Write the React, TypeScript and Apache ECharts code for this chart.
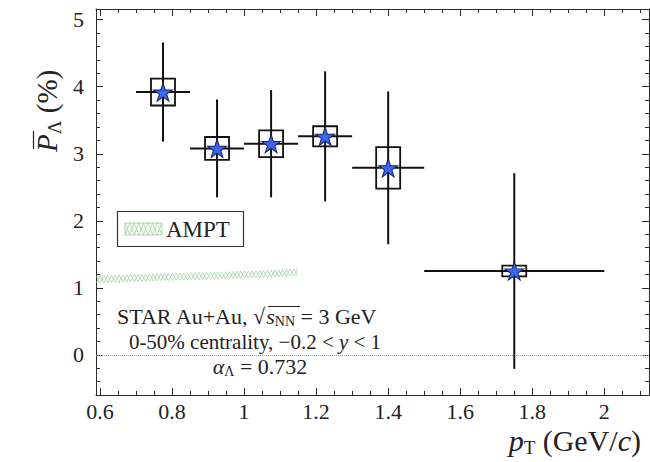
import React, { useEffect, useRef } from "react";
import * as echarts from "echarts";

// Measured data (pT bins, mean polarization in %, errors)
const ptCenter = [0.775, 0.925, 1.075, 1.225, 1.4, 1.75];
const ptLow = [0.7, 0.85, 1.0, 1.15, 1.3, 1.5];
const ptHigh = [0.85, 1.0, 1.15, 1.3, 1.5, 2.0];
const polarization = [3.92, 3.08, 3.15, 3.26, 2.79, 1.25];
const statErr = [0.74, 0.73, 0.8, 0.97, 1.14, 1.46];
const sysErr = [0.2, 0.17, 0.2, 0.15, 0.31, 0.08];

// AMPT band
const amptPt = [0.59, 0.7, 0.8, 0.9, 1.0, 1.1, 1.155];
const amptLow = [1.07, 1.09, 1.11, 1.12, 1.14, 1.16, 1.18];
const amptHigh = [1.18, 1.2, 1.22, 1.23, 1.25, 1.27, 1.29];

// Tick values
const xMajorTicks = [0.6, 0.8, 1.0, 1.2, 1.4, 1.6, 1.8, 2.0];
const yMajorTicks = [0, 1, 2, 3, 4, 5];

const X_MIN = 0.589;
const X_MAX = 2.124;
const Y_MIN = -0.6;
const Y_MAX = 5.16;

const SERIF = "'Liberation Serif', 'DejaVu Serif', serif";

function stepTicks(start: number, end: number, step: number): number[] {
  const out: number[] = [];
  const n = Math.round((end - start) / step);
  for (let i = 0; i <= n; i++) out.push(Math.round((start + i * step) * 1000) / 1000);
  return out;
}

export default function App() {
  const ref = useRef<HTMLDivElement>(null);

  useEffect(() => {
    if (!ref.current) return;
    const chart = echarts.init(ref.current, undefined, { renderer: "svg" });

    const xMinorTicks = stepTicks(0.6, 2.1, 0.05);
    const yMinorTicks = stepTicks(-0.6, 5.0, 0.2);

    const pointData = ptCenter.map((x, i) => [
      x,
      polarization[i],
      ptLow[i],
      ptHigh[i],
      statErr[i],
      sysErr[i],
    ]);

    const axisColor = "#2a2a2a";
    const makeX = (pos: string, major: boolean, showLabel: boolean) => ({
      type: "value",
      position: pos,
      min: X_MIN,
      max: X_MAX,
      splitLine: { show: false },
      axisLine: { show: major, onZero: false, lineStyle: { color: axisColor, width: 1 } },
      axisTick: {
        show: true,
        inside: true,
        length: major ? 7 : 4,
        customValues: major ? xMajorTicks : xMinorTicks,
        lineStyle: { color: axisColor, width: 1 },
      },
      axisLabel: showLabel
        ? {
            show: true,
            customValues: xMajorTicks,
            fontFamily: SERIF,
            fontSize: 22,
            color: "#222",
            margin: 5,
          }
        : { show: false },
    });
    const makeY = (pos: string, major: boolean, showLabel: boolean) => ({
      type: "value",
      position: pos,
      min: Y_MIN,
      max: Y_MAX,
      splitLine: { show: false },
      axisLine: { show: major, onZero: false, lineStyle: { color: axisColor, width: 1 } },
      axisTick: {
        show: true,
        inside: true,
        length: major ? 7 : 4,
        customValues: major ? yMajorTicks : yMinorTicks,
        lineStyle: { color: axisColor, width: 1 },
      },
      axisLabel: showLabel
        ? {
            show: true,
            customValues: yMajorTicks,
            fontFamily: SERIF,
            fontSize: 22,
            color: "#222",
            margin: 12,
          }
        : { show: false },
    });

    const starPath =
      "path://M50,0 L61.2,34.5 L97.6,34.5 L68.2,55.9 L79.4,90.5 L50,69.1 L20.6,90.5 L31.8,55.9 L2.4,34.5 L38.8,34.5 Z";

    const swatchA: number[][] = [];
    const swatchB: number[][] = [];
    for (let i = 0, px = 125; px <= 162.01; px += 4.6, i++) {
      swatchA.push([px, i % 2 ? 223 : 235]);
      swatchB.push([px, i % 2 ? 235 : 223]);
    }

    const hatchColor = "#9acd9a";

    const richBase = {
      i: { fontFamily: SERIF, fontStyle: "italic", fontSize: 22, fill: "#222" },
      s: { fontFamily: SERIF, fontSize: 14, fill: "#222", padding: [10, 0, 0, 0] },
    };
    const richLine2 = {
      i: { fontFamily: SERIF, fontStyle: "italic", fontSize: 21, fill: "#222" },
    };

    const option: any = {
      animation: false,
      backgroundColor: "#fff",
      grid: { left: 96, right: 1, top: 9, bottom: 67, containLabel: false },
      xAxis: [
        makeX("bottom", true, true),
        makeX("bottom", false, false),
        makeX("top", true, false),
        makeX("top", false, false),
      ],
      yAxis: [
        makeY("left", true, true),
        makeY("left", false, false),
        makeY("right", true, false),
        makeY("right", false, false),
      ],
      series: [
        {
          type: "custom",
          name: "AMPT",
          xAxisIndex: 0,
          yAxisIndex: 0,
          clip: true,
          silent: true,
          data: [[amptPt[0], amptLow[0]]],
          renderItem: (_params: any, api: any) => {
            const lo = amptPt.map((x, i) => api.coord([x, amptLow[i]]));
            const hi = amptPt.map((x, i) => api.coord([x, amptHigh[i]]));
            const interp = (pts: number[][], px: number) => {
              for (let k = 0; k < pts.length - 1; k++) {
                if (px <= pts[k + 1][0]) {
                  const t = (px - pts[k][0]) / (pts[k + 1][0] - pts[k][0]);
                  return pts[k][1] + t * (pts[k + 1][1] - pts[k][1]);
                }
              }
              return pts[pts.length - 1][1];
            };
            const x0 = lo[0][0];
            const x1 = lo[lo.length - 1][0];
            const a: number[][] = [];
            const b: number[][] = [];
            let n = 0;
            for (let px = x0; px <= x1 + 0.01; px += 3.8, n++) {
              const yl = interp(lo, px);
              const yh = interp(hi, px);
              a.push([px, n % 2 === 0 ? yl : yh]);
              b.push([px, n % 2 === 0 ? yh : yl]);
            }
            return {
              type: "group",
              children: [
                { type: "polyline", shape: { points: a }, style: { stroke: hatchColor, lineWidth: 0.7, fill: "none" } },
                { type: "polyline", shape: { points: b }, style: { stroke: hatchColor, lineWidth: 0.7, fill: "none" } },
              ],
            };
          },
          z: 2,
        },
        {
          type: "custom",
          name: "errors",
          xAxisIndex: 0,
          yAxisIndex: 0,
          silent: true,
          data: pointData,
          encode: { x: 0, y: 1 },
          renderItem: (_params: any, api: any) => {
            const x = api.value(0);
            const y = api.value(1);
            const lo = api.value(2);
            const hi = api.value(3);
            const st = api.value(4);
            const sy = api.value(5);
            const top = api.coord([x, y + st]);
            const bot = api.coord([x, y - st]);
            const left = api.coord([lo, y]);
            const right = api.coord([hi, y]);
            const sTop = api.coord([x, y + sy]);
            const sBot = api.coord([x, y - sy]);
            const ls = { stroke: "#111", lineWidth: 2 };
            return {
              type: "group",
              children: [
                { type: "line", shape: { x1: top[0], y1: top[1], x2: bot[0], y2: bot[1] }, style: ls },
                { type: "line", shape: { x1: left[0], y1: left[1], x2: right[0], y2: right[1] }, style: ls },
                {
                  type: "rect",
                  shape: { x: sTop[0] - 12, y: sTop[1], width: 24, height: sBot[1] - sTop[1] },
                  style: { fill: "none", stroke: "#111", lineWidth: 1.8 },
                },
              ],
            };
          },
          z: 3,
        },
        {
          type: "scatter",
          name: "STAR",
          xAxisIndex: 0,
          yAxisIndex: 0,
          silent: true,
          data: pointData.map((d) => [d[0], d[1]]),
          symbol: starPath,
          symbolSize: [19, 18],
          itemStyle: { color: "#3766f2", borderColor: "#16245e", borderWidth: 1, opacity: 1 },
          z: 4,
          markLine: {
            silent: true,
            symbol: ["none", "none"],
            label: { show: false },
            lineStyle: { type: "dotted", color: "#9a9a9a", width: 1 },
            data: [{ yAxis: 0 }],
            z: 1,
          },
        },
      ],
      graphic: [
        // Legend
        {
          type: "rect",
          shape: { x: 117.5, y: 211.5, width: 126, height: 35 },
          style: { fill: "#fff", stroke: "#333", lineWidth: 1.2 },
          z: 10,
        },
        {
          type: "rect",
          shape: { x: 125, y: 223, width: 37, height: 12 },
          style: { fill: "none", stroke: "#a8d6a8", lineWidth: 1 },
          z: 11,
        },
        { type: "polyline", shape: { points: swatchA }, style: { stroke: hatchColor, lineWidth: 0.7, fill: "none" }, z: 11 },
        { type: "polyline", shape: { points: swatchB }, style: { stroke: hatchColor, lineWidth: 0.7, fill: "none" }, z: 11 },
        {
          type: "text",
          x: 166,
          y: 229,
          style: { text: "AMPT", font: `23px ${SERIF}`, fill: "#222", verticalAlign: "middle", align: "left" },
          z: 11,
        },
        // Annotations
        {
          type: "text",
          x: 117,
          y: 316,
          style: {
            text: "STAR Au+Au, √{i|s}{s|NN} = 3 GeV",
            font: `22px ${SERIF}`,
            fill: "#222",
            align: "left",
            verticalAlign: "middle",
            rich: richBase,
          },
          z: 11,
        },
        {
          type: "line",
          shape: { x1: 268, y1: 306.5, x2: 300, y2: 306.5 },
          style: { stroke: "#222", lineWidth: 1 },
          z: 11,
        },
        {
          type: "text",
          x: 255,
          y: 342,
          style: {
            text: "0-50% centrality, −0.2 < {i|y} < 1",
            font: `21px ${SERIF}`,
            fill: "#222",
            align: "center",
            verticalAlign: "middle",
            rich: richLine2,
          },
          z: 11,
        },
        {
          type: "text",
          x: 260,
          y: 366,
          style: {
            text: "{i|α}{s|Λ} = 0.732",
            font: `22px ${SERIF}`,
            fill: "#222",
            align: "center",
            verticalAlign: "middle",
            rich: richBase,
          },
          z: 11,
        },
        // Y axis title (rotated)
        {
          type: "group",
          x: 47,
          y: 152,
          rotation: Math.PI / 2,
          children: [
            {
              type: "text",
              x: 0,
              y: 0,
              style: {
                text: "{p|P}{s|Λ}{n| (%)}",
                align: "left",
                verticalAlign: "middle",
                fill: "#222",
                rich: {
                  p: { fontFamily: SERIF, fontStyle: "italic", fontSize: 29, fill: "#222" },
                  s: { fontFamily: SERIF, fontSize: 19, fill: "#222", padding: [14, 0, 0, 0] },
                  n: { fontFamily: SERIF, fontSize: 29, fill: "#222" },
                },
              },
            },
            {
              type: "line",
              shape: { x1: 3, y1: -13.5, x2: 21, y2: -13.5 },
              style: { stroke: "#222", lineWidth: 1.2 },
            },
          ],
          z: 11,
        },
        // X axis title
        {
          type: "text",
          x: 641,
          y: 440,
          style: {
            text: "{i|p}{s|T} (GeV/{i|c})",
            font: `30px ${SERIF}`,
            fill: "#222",
            align: "right",
            verticalAlign: "middle",
            rich: {
              i: { fontFamily: SERIF, fontStyle: "italic", fontSize: 30, fill: "#222" },
              s: { fontFamily: SERIF, fontSize: 19, fill: "#222", padding: [15, 0, 0, 0] },
            },
          },
          z: 11,
        },
      ],
    };

    chart.setOption(option);
    return () => chart.dispose();
  }, []);

  return (
    <div
      ref={ref}
      style={{ position: "fixed", left: 0, top: 0, width: 650, height: 462, background: "#fff" }}
    />
  );
}
